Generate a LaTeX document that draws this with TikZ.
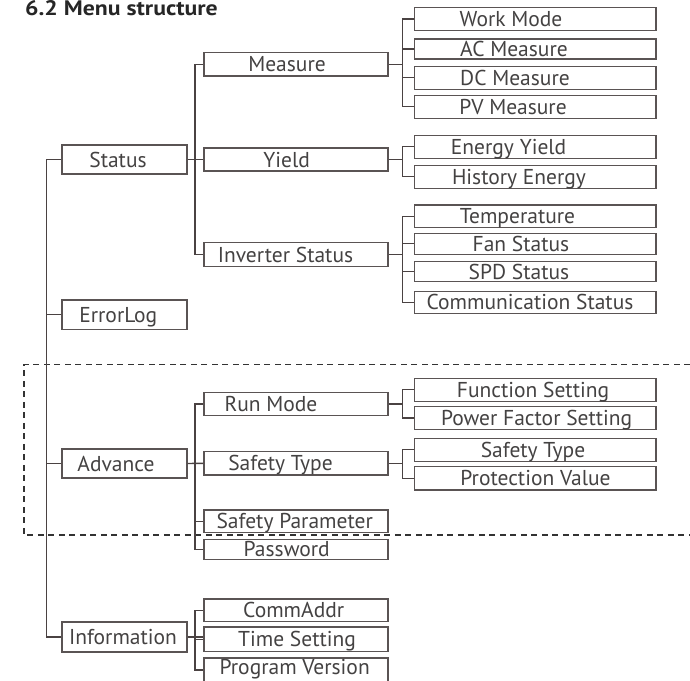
\documentclass[tikz,border=0pt]{standalone}
\usepackage{fontspec}
\setmainfont{PT Sans}
\definecolor{txtc}{HTML}{444242}
\definecolor{linec}{HTML}{4A4242}
\definecolor{boxc}{HTML}{5A5454}
\newcommand\menubox[7]{%
  \node[menubx,minimum width=#4,minimum height=#5] (#1) at (#2,#3) {};
  \node[menutxt] (#1-t) at (#6,#3) {#7};}
\begin{document}
\begin{tikzpicture}[x=1pt,y=-1pt,
  menubx/.style={draw=boxc,line width=1.1pt,inner sep=0pt,rectangle},
  menutxt/.style={inner sep=0pt,text height=15pt,text depth=0pt,text=txtc,font=\fontsize{21.5}{24}\selectfont},
  conn/.style={draw=linec,line width=1.4pt},
  dashbox/.style={draw=black!80,line width=1.1pt,dash pattern=on 6pt off 4.5pt}]
\useasboundingbox (0,0) rectangle (690,680);
\node[anchor=base west,inner sep=0pt,text=black!85,font=\fontsize{21}{24}\selectfont\bfseries\addfontfeature{FakeStretch=1.13}] (title) at (25,15) {6.2 Menu structure};
% bus coordinates
\coordinate (bus1) at (46.7,0);
\coordinate (bus2) at (195,0);
\coordinate (bus3) at (402.7,0);
% level 1
\menubox{status}{124.5}{159.5}{125}{29}{118}{Status}
\menubox{errorlog}{124.5}{314.7}{125}{29.5}{118.3}{ErrorLog}
\menubox{advance}{124.5}{463.5}{125}{29}{116}{Advance}
\menubox{information}{124.5}{637}{125}{30}{123}{Information}
% level 2
\menubox{measure}{296}{64.3}{184}{23.3}{287}{Measure}
\menubox{yield}{296}{159.5}{184}{23}{286.7}{Yield}
\menubox{inverter}{296}{254.7}{184}{24}{285.5}{Inverter Status}
\menubox{runmode}{296}{404}{184}{22.3}{271}{Run Mode}
\menubox{safetytype}{296}{463.3}{184}{23.3}{280.5}{Safety Type}
\menubox{safetyparam}{296}{521.3}{184}{22.7}{294.7}{Safety Parameter}
\menubox{password}{296}{549.3}{184}{20}{286.7}{Password}
\menubox{commaddr}{296}{610.3}{184}{22.7}{293.7}{CommAddr}
\menubox{timesetting}{296}{639.3}{184}{24.7}{297}{Time Setting}
\node[menubx,minimum width=184,minimum height=24] (progversion) at (296,670) {};
\node[menutxt] (progversion-t) at (294.7,667) {Program Version};
% level 3
\menubox{workmode}{535.2}{19}{241.5}{23.4}{511}{Work Mode}
\menubox{acmeasure}{535.2}{49}{241.5}{20}{514}{AC Measure}
\menubox{dcmeasure}{535.2}{77.7}{241.5}{23.3}{515}{DC Measure}
\menubox{pvmeasure}{535.2}{106.7}{241.5}{23.3}{513}{PV Measure}
\menubox{energyyield}{535.2}{146.7}{241.5}{23.3}{508.6}{Energy Yield}
\menubox{historyenergy}{535.2}{176.7}{241.5}{23.3}{519}{History Energy}
\menubox{temperature}{535.2}{216.3}{241.5}{22.7}{517.5}{Temperature}
\menubox{fanstatus}{535.2}{243.7}{241.5}{20.7}{521}{Fan Status}
\menubox{spdstatus}{535.2}{271.7}{241.5}{20}{519}{SPD Status}
\menubox{commstatus}{535.2}{302.2}{241.5}{22.3}{530}{Communication Status}
\menubox{funcsetting}{535.2}{389.7}{241.5}{22.7}{533}{Function Setting}
\menubox{pfsetting}{535.2}{418}{241.5}{22.7}{536.7}{Power Factor Setting}
\menubox{safetytype2}{535.2}{449.7}{241.5}{22.7}{533}{Safety Type}
\menubox{protection}{535.2}{478.3}{241.5}{23.3}{535.5}{Protection Value}
% dashed region
\draw[dashbox] (690,364.3) -- (24,364.3) -- (24,535) -- (690,535);
% level 1 bus
\draw[conn] (status.west) -- (status.west -| bus1) |- (information.west);
\draw[conn] (errorlog.west) -- (errorlog.west -| bus1);
\draw[conn] (advance.west) -- (advance.west -| bus1);
% status group
\draw[conn] (status.east) -- (yield.west);
\draw[conn] (measure.west) -- (measure.west -| bus2) |- (inverter.west);
% advance group
\draw[conn] (advance.east) -- (safetytype.west);
\draw[conn] (runmode.west) -- (runmode.west -| bus2) |- (password.west);
\draw[conn] (safetyparam.west) -- (safetyparam.west -| bus2);
% information group
\draw[conn] (information.east) -- (information.east -| timesetting.west);
\draw[conn] (commaddr.west) -- (commaddr.west -| bus2) |- (progversion.west);
\draw[conn] (timesetting.west) -- (timesetting.west -| bus2);
% measure group
\draw[conn] (measure.east) -- (measure.east -| bus3);
\draw[conn] (workmode.west) -- (workmode.west -| bus3) |- (pvmeasure.west);
\draw[conn] (acmeasure.west) -- (acmeasure.west -| bus3);
\draw[conn] (dcmeasure.west) -- (dcmeasure.west -| bus3);
% yield group
\draw[conn] (yield.east) -- (yield.east -| bus3);
\draw[conn] (energyyield.west) -- (energyyield.west -| bus3) |- (historyenergy.west);
% inverter group
\draw[conn] (inverter.east) -- (inverter.east -| bus3);
\draw[conn] (temperature.west) -- (temperature.west -| bus3) |- (commstatus.west);
\draw[conn] (fanstatus.west) -- (fanstatus.west -| bus3);
\draw[conn] (spdstatus.west) -- (spdstatus.west -| bus3);
% run mode group
\draw[conn] (runmode.east) -- (runmode.east -| bus3);
\draw[conn] (funcsetting.west) -- (funcsetting.west -| bus3) |- (pfsetting.west);
% safety type group
\draw[conn] (safetytype.east) -- (safetytype.east -| bus3);
\draw[conn] (safetytype2.west) -- (safetytype2.west -| bus3) |- (protection.west);
\end{tikzpicture}
\end{document}
